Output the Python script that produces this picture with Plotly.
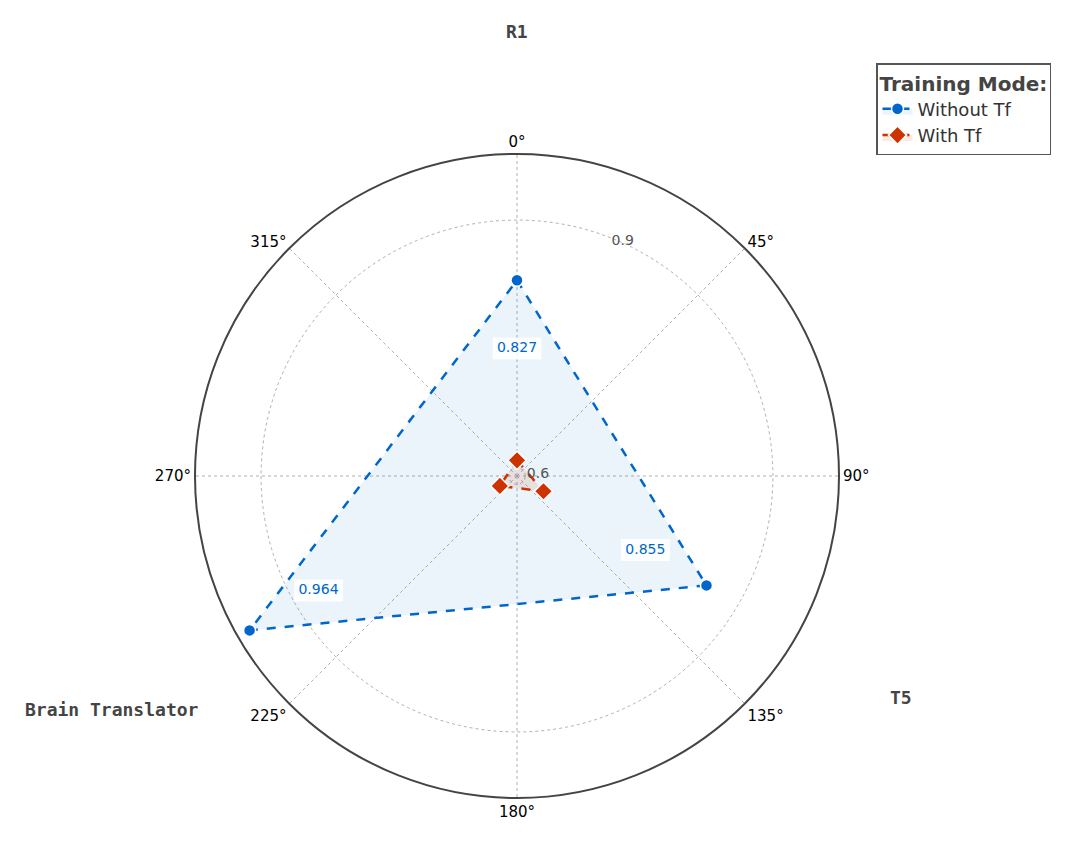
import plotly.graph_objects as go

# categories placed at fixed angles round the circle
categories = ["R1", "T5", "Brain Translator"]
theta_deg = [0, 120, 240]

without_tf = [0.827, 0.855, 0.964]
with_tf = [0.609, 0.627, 0.614]

blue = "#0066CC"
red = "#CC3300"

W, H = 1079, 847
OFF = 7  # page body margin
cx, cy, R = 516 - OFF, 475 - OFF, 322


def closed(v):
    return list(v) + [v[0]]


fig = go.Figure()

fig.add_trace(go.Scatterpolar(
    r=closed(without_tf), theta=closed(theta_deg), thetaunit="degrees",
    mode="lines+markers", name="Without Tf",
    line=dict(color=blue, width=2.5, dash="dash"),
    marker=dict(symbol="circle", size=12, color=blue, line=dict(color="white", width=1.5)),
    fill="toself", fillcolor="rgba(0,102,204,0.08)",
))

fig.add_trace(go.Scatterpolar(
    r=closed(with_tf), theta=closed(theta_deg), thetaunit="degrees",
    mode="lines+markers", name="With Tf",
    line=dict(color=red, width=2.5, dash="dash"),
    marker=dict(symbol="diamond", size=14, color=red, line=dict(color="white", width=1.5)),
    fill="toself", fillcolor="rgba(204,51,0,0.10)",
))

# value labels with white boxes (line-ew marker drawn thick as a box)
fig.add_trace(go.Scatterpolar(
    r=[v * 0.9 for v in without_tf], theta=theta_deg, thetaunit="degrees",
    mode="markers+text", text=[f"{v:.3f}" for v in without_tf],
    textposition="middle center", textfont=dict(color=blue, size=14, family="DejaVu Sans"),
    marker=dict(symbol="line-ew", size=35, line=dict(color="rgba(255,255,255,0.85)", width=22)),
    showlegend=False, hoverinfo="skip",
))

# category labels outside the circle
label_pos = {"R1": (516, 31), "T5": (900, 696), "Brain Translator": (111, 708)}
for name in categories:
    px, py = label_pos[name]
    fig.add_annotation(
        x=(px - OFF) / W, y=1 - (py - OFF) / H, xref="paper", yref="paper",
        xanchor="center", yanchor="middle", text=f"<b>{name}</b>",
        showarrow=False, font=dict(family="DejaVu Sans Mono", size=18, color="#444444"),
    )

fig.update_layout(
    width=W, height=H,
    margin=dict(l=0, r=0, t=0, b=0),
    paper_bgcolor="white",
    font=dict(family="DejaVu Sans", color="#333333"),
    polar=dict(
        domain=dict(x=[(cx - R) / W, (cx + R) / W], y=[1 - (cy + R) / H, 1 - (cy - R) / H]),
        bgcolor="white",
        angularaxis=dict(
            rotation=90, direction="clockwise", dtick=45, ticksuffix="°",
            showline=True, linecolor="#444444", linewidth=2,
            gridcolor="#b0b0b0", griddash="dot", gridwidth=1,
            ticks="", tickfont=dict(size=15, color="black"),
        ),
        radialaxis=dict(
            range=[0.59, 0.98], tickvals=[0.6, 0.9], angle=70, tickangle=70,
            showline=False, ticks="",
            gridcolor="#b0b0b0", griddash="dot", gridwidth=1,
            tickfont=dict(size=14, color="#555555"),
        ),
    ),
    legend=dict(
        x=(875 - OFF) / W, y=1 - (62 - OFF) / H, xanchor="left", yanchor="top",
        title=dict(text="<b>Training Mode:</b>", font=dict(size=20, color="#444444")),
        font=dict(size=18, color="#333333"),
        bordercolor="#555555", borderwidth=1.5, bgcolor="white",
    ),
)

fig.write_html("out.html")
